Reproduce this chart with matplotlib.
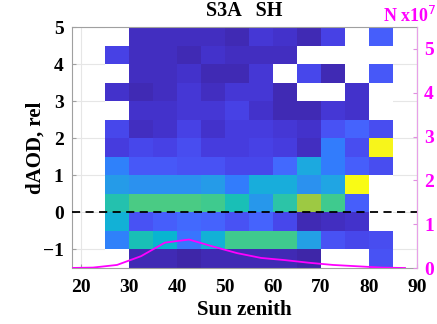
import numpy as np
import matplotlib
matplotlib.use("Agg")
import matplotlib.pyplot as plt
from matplotlib.colors import ListedColormap

# MATLAB parula colormap (64 entries)
parula = ListedColormap([
    [0.2422, 0.1504, 0.6603], [0.2504, 0.1650, 0.7076], [0.2578, 0.1818, 0.7511],
    [0.2647, 0.1978, 0.7952], [0.2706, 0.2147, 0.8364], [0.2751, 0.2342, 0.8710],
    [0.2783, 0.2559, 0.8991], [0.2803, 0.2782, 0.9221], [0.2813, 0.3006, 0.9414],
    [0.2810, 0.3228, 0.9579], [0.2795, 0.3447, 0.9717], [0.2760, 0.3667, 0.9829],
    [0.2699, 0.3892, 0.9906], [0.2602, 0.4123, 0.9952], [0.2440, 0.4358, 0.9988],
    [0.2206, 0.4603, 0.9973], [0.1963, 0.4847, 0.9892], [0.1834, 0.5074, 0.9798],
    [0.1786, 0.5289, 0.9682], [0.1764, 0.5499, 0.9520], [0.1687, 0.5703, 0.9359],
    [0.1540, 0.5902, 0.9218], [0.1460, 0.6091, 0.9079], [0.1380, 0.6276, 0.8973],
    [0.1248, 0.6459, 0.8883], [0.1113, 0.6635, 0.8763], [0.0952, 0.6798, 0.8598],
    [0.0689, 0.6948, 0.8394], [0.0297, 0.7082, 0.8163], [0.0036, 0.7203, 0.7917],
    [0.0067, 0.7312, 0.7660], [0.0433, 0.7411, 0.7394], [0.0964, 0.7500, 0.7120],
    [0.1408, 0.7584, 0.6842], [0.1717, 0.7670, 0.6554], [0.1938, 0.7758, 0.6251],
    [0.2161, 0.7843, 0.5923], [0.2470, 0.7918, 0.5567], [0.2906, 0.7973, 0.5188],
    [0.3406, 0.8008, 0.4789], [0.3909, 0.8029, 0.4354], [0.4456, 0.8024, 0.3909],
    [0.5044, 0.7993, 0.3480], [0.5616, 0.7942, 0.3045], [0.6174, 0.7876, 0.2612],
    [0.6720, 0.7793, 0.2227], [0.7242, 0.7698, 0.1910], [0.7738, 0.7598, 0.1646],
    [0.8203, 0.7498, 0.1535], [0.8634, 0.7406, 0.1596], [0.9035, 0.7330, 0.1774],
    [0.9393, 0.7288, 0.2100], [0.9728, 0.7298, 0.2394], [0.9956, 0.7434, 0.2371],
    [0.9970, 0.7659, 0.2199], [0.9952, 0.7893, 0.2028], [0.9892, 0.8136, 0.1885],
    [0.9786, 0.8386, 0.1766], [0.9676, 0.8639, 0.1643], [0.9610, 0.8890, 0.1537],
    [0.9597, 0.9135, 0.1423], [0.9628, 0.9373, 0.1265], [0.9691, 0.9606, 0.1064],
    [0.9769, 0.9839, 0.0805]])
parula.set_bad("white")

nan = np.nan

# Bin edges: sun zenith (deg) and relative dAOD
sza_edges = np.arange(25, 86, 5)
daod_edges = np.arange(-1.5, 5.01, 0.5)

# Relative frequency per bin, rows from top (dAOD 4.5-5) down to bottom (-1.5 to -1)
freq_top_down = [
    [nan, 2, 2, 2, 2, 1, 4, 3, 1, 6, nan, 11],
    [6, 2, 2, 1, 3, 2, 2, 2, nan, nan, nan, nan],
    [nan, 2, 2, 3, 1, 1, 4, nan, 7, 1, nan, 10],
    [3, 1, 2, 4, 2, 4, 4, 1, nan, nan, 3, nan],
    [nan, 3, 3, 4, 4, 6, 3, 1, 1, 4, 3, nan],
    [7, 2, 3, 6, 3, 5, 5, 4, 3, 9, 12, 8],
    [5, 7, 6, 8, 5, 5, 6, 5, 2, 16, 8, 62],
    [17, 10, 10, 9, 9, 7, 7, 13, 25, 16, 11, 8],
    [22, 20, 20, 20, 22, 16, 26, 26, 20, 24, 63, nan],
    [33, 38, 38, 38, 37, 32, 21, 34, 44, 37, 11, nan],
    [27, 9, 11, 13, 12, 9, 12, 7, 1, 2, 3, nan],
    [17, 32, 28, 15, 27, 37, 37, 37, 23, 9, 7, 8],
    [nan, 1, 1, 0, 1, 1, 1, 1, 0, nan, nan, 9],
]

# Number of samples per sun-zenith bin (x10^7)
n_sza = [17.5, 22.5, 27.5, 32.5, 37.5, 42.5, 47.5, 52.5, 57.5, 62.5, 67.5, 72.5, 77.5, 82.5, 87.5]
n_count = [0.0, 0.01, 0.07, 0.27, 0.58, 0.65, 0.49, 0.34, 0.23, 0.18, 0.12, 0.07, 0.04, 0.01, 0.0]

xticks = [20, 30, 40, 50, 60, 70, 80, 90]
yticks = [-1, 0, 1, 2, 3, 4, 5]
nticks = [0, 1, 2, 3, 4, 5]

serif = ["Liberation Serif", "DejaVu Serif"]
magenta = "#ff00ff"

fig = plt.figure(figsize=(4.37, 3.24), dpi=100)
ax = fig.add_axes([0.1648, 0.1728, 0.7895, 0.7438])

grid = np.ma.masked_invalid(np.array(freq_top_down[::-1], dtype=float))
ax.pcolormesh(sza_edges, daod_edges, grid, cmap=parula, vmin=0, vmax=63,
              shading="flat", zorder=1)
ax.axhline(0, color="black", linestyle=(0, (4.5, 3)), linewidth=1.3, zorder=3)

ax.set_xlim(18.125, 90)
ax.set_ylim(-1.5, 5)
ax.set_xticks(xticks)
ax.set_yticks(yticks)
ax.set_axisbelow(True)
ax.grid(True, color="#e6e6e6", linewidth=0.8)
for s in ax.spines.values():
    s.set_color("#a0a0a0")
    s.set_linewidth(0.8)
ax.tick_params(direction="in", length=3, color="#a0a0a0", labelsize=14, pad=6)
ax.tick_params(axis="x", pad=8)
for lab in ax.get_xticklabels() + ax.get_yticklabels():
    lab.set_fontfamily(serif)
    lab.set_fontweight("bold")

ax.set_title("S3A   SH", fontsize=14.5, fontweight="bold", family=serif, pad=8)
ax.set_xlabel("Sun zenith", fontsize=15, fontweight="bold", family=serif, labelpad=3)
ax.set_ylabel("dAOD, rel", fontsize=15, fontweight="bold", family=serif, labelpad=-2)

ax2 = ax.twinx()
ax2.plot(n_sza, n_count, color=magenta, linewidth=1.3, zorder=4)
ax2.set_ylim(0, 5.5)
ax2.set_yticks(nticks)
ax2.tick_params(direction="in", length=3, color="#e090e0", labelcolor=magenta,
                labelsize=14, pad=5)
for lab in ax2.get_yticklabels():
    lab.set_fontfamily(serif)
    lab.set_fontweight("bold")
for name, s in ax2.spines.items():
    s.set_visible(name == "right")
ax2.spines["right"].set_color("#e8a0e8")
ax2.spines["right"].set_linewidth(0.8)

fig.text(383 / 437, 1 - 22 / 324, "N x10$^{7}$", color=magenta, fontsize=13,
         fontweight="bold", family=serif, ha="left", va="baseline")

fig.savefig("out.png", dpi=100)
